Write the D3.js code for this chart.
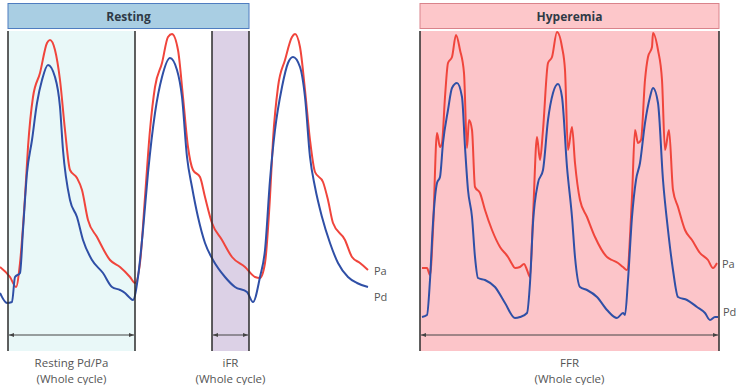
<!DOCTYPE html>
<html>
<head>
<meta charset="utf-8">
<title>Resting vs Hyperemia</title>
<script src="https://cdn.jsdelivr.net/npm/d3@7"></script>
<style>
  body { margin: 0; background: #fff; }
  svg text { font-family: "Open Sans", "Noto Sans", sans-serif; }
</style>
</head>
<body>
<svg id="chart" width="741" height="385"></svg>
<script>
// time in samples, pressure in arbitrary units

// resting traces
var restPa = [[0,63],[10,53],[16,43],[20,67],[25,133],[28,183],[33,233],[40,257],[47,287],[50,290],[55,280],[60,250],[65,200],[70,160],[77,152],[82,140],[88,110],[97,93],[110,70],[120,63],[130,53],[135,47],
  [140,67],[145,133],[150,200],[155,243],[162,267],[168,293],[172,296],[178,280],[183,233],[188,183],[193,160],[200,153],[205,133],[212,107],[222,90],[232,73],[245,63],[255,53],[260,52],
  [265,67],[270,133],[273,190],[278,243],[285,270],[292,293],[295,296],[300,283],[305,240],[310,190],[315,158],[323,148],[328,130],[333,107],[345,90],[352,73],[360,67],[368,60]];
var restPd = [[0,37],[7,27],[12,28],[15,53],[20,57],[23,100],[27,157],[32,190],[37,227],[42,250],[48,265],[55,253],[60,223],[63,180],[70,130],[77,113],[83,90],[92,70],[103,57],[112,43],[120,40],[125,37],[130,32],[133,30],
  [138,53],[143,100],[148,157],[155,217],[162,253],[170,272],[177,260],[182,233],[187,173],[192,143],[198,113],[205,87],[213,70],[225,53],[235,43],[247,38],[253,28],
  [260,53],[265,80],[270,150],[275,200],[282,243],[288,267],[293,273],[300,263],[305,233],[310,173],[315,143],[322,113],[330,87],[338,67],[348,53],[357,47],[368,43]];

// hyperemia traces
var hypPa = [[2,62],[7,62],[10,55],[13,100],[17,197],[20,183],[22,187],[25,233],[28,267],[32,273],[36,295],[40,280],[44,257],[47,182],[49,210],[52,200],[55,143],[60,137],[65,120],[72,100],[80,83],[88,73],[92,66],[95,62],[100,63],[104,66],[107,60],[110,53],
  [113,113],[117,193],[120,170],[123,200],[128,267],[132,273],[137,298],[142,283],[145,260],[148,180],[152,203],[155,167],[160,130],[167,113],[175,93],[187,73],[192,70],[198,67],[203,63],[207,60],
  [212,133],[215,200],[218,187],[221,190],[225,250],[228,273],[232,283],[233,297],[238,280],[242,250],[245,180],[249,200],[253,140],[258,123],[265,100],[272,90],[280,77],[288,70],[293,62],[297,67]];
var hypPd = [[2,13],[7,15],[10,50],[13,107],[17,147],[20,153],[23,187],[28,220],[32,242],[37,247],[42,233],[45,183],[48,140],[52,113],[55,73],[58,52],[65,50],[75,43],[85,27],[95,12],[100,13],[107,17],
  [110,47],[113,107],[118,147],[123,160],[128,210],[133,237],[138,246],[142,233],[147,163],[152,113],[155,73],[160,43],[167,40],[177,33],[187,20],[197,12],[203,17],[205,15],
  [208,50],[212,113],[216,150],[220,167],[225,207],[230,233],[233,242],[238,227],[243,150],[248,100],[253,60],[258,33],[267,30],[277,23],[285,17],[290,10],[295,13],[298,13]];

// window boundaries (samples)
var restCycle = [8, 135];
var restIFR = [212, 249];
var hypCycle = [0, 299];

var panels = ["Resting", "Hyperemia"];
var windowLabels = [["Resting Pd/Pa", "(Whole cycle)"], ["iFR", "(Whole cycle)"], ["FFR", "(Whole cycle)"]];
var seriesNames = ["Pa", "Pd"];

var svg = d3.select("#chart");
var red = "#f0453c", blue = "#2f4fa6";

var y = d3.scaleLinear().domain([0, 300]).range([330, 30]);
var xL = d3.scaleLinear().domain([0, 370]).range([0, 370]);
var xR = d3.scaleLinear().domain([0, 300]).range([420, 720]);

var yTop = 31, yBottom = 351, arrowY = 335;

// headers
function header(x0, x1, label, fill, stroke) {
  svg.append("rect").attr("x", x0).attr("y", 3.5).attr("width", x1 - x0).attr("height", 25)
    .attr("fill", fill).attr("stroke", stroke).attr("stroke-width", 1);
  svg.append("text").attr("x", (x0 + x1) / 2).attr("y", 20.5).attr("text-anchor", "middle")
    .attr("font-size", 12).attr("font-weight", "bold").attr("fill", "#2f3a46").text(label);
}
header(xL(restCycle[0]), xL(restIFR[1]), panels[0], "#a9cee3", "#4f7dc0");
header(xR(hypCycle[0]), xR(hypCycle[1]), panels[1], "#fdc7ca", "#d9838b");

// shaded windows
function band(x, w, fill) {
  svg.append("rect").attr("x", x(w[0])).attr("y", yTop).attr("width", x(w[1]) - x(w[0]))
    .attr("height", yBottom - yTop).attr("fill", fill);
}
band(xL, restCycle, "#e9f8f8");
band(xL, restIFR, "#dcd1e6");
band(xR, hypCycle, "#fcc5c9");

// arrow markers
var defs = svg.append("defs");
["start", "end"].forEach(function (k) {
  defs.append("marker").attr("id", "arr-" + k).attr("viewBox", "0 0 10 10")
    .attr("refX", k == "end" ? 10 : 0).attr("refY", 5)
    .attr("markerWidth", 5).attr("markerHeight", 5).attr("orient", "auto")
    .append("path").attr("d", k == "end" ? "M0,1L10,5L0,9Z" : "M10,1L0,5L10,9Z").attr("fill", "#444");
});

// traces
var line = function (x) {
  return d3.line().curve(d3.curveMonotoneX)
    .x(function (d) { return x(d[0]); }).y(function (d) { return y(d[1]); });
};
[[restPa, xL, red], [restPd, xL, blue], [hypPa, xR, red], [hypPd, xR, blue]].forEach(function (s) {
  svg.append("path").datum(s[0]).attr("d", line(s[1])).attr("fill", "none")
    .attr("stroke", s[2]).attr("stroke-width", 2).attr("stroke-linejoin", "round");
});

// boundary lines
function vlines(x, arr) {
  arr.forEach(function (v) {
    svg.append("line").attr("x1", x(v)).attr("x2", x(v)).attr("y1", yTop).attr("y2", yBottom)
      .attr("stroke", "#2b2b2b").attr("stroke-width", 1.5);
  });
}
vlines(xL, restCycle.concat(restIFR));
vlines(xR, hypCycle);

// measure arrows + labels
[[xL, restCycle, windowLabels[0]], [xL, restIFR, windowLabels[1]], [xR, hypCycle, windowLabels[2]]].forEach(function (a) {
  var x0 = a[0](a[1][0]) + 1, x1 = a[0](a[1][1]) - 1;
  svg.append("line").attr("x1", x0).attr("x2", x1).attr("y1", arrowY).attr("y2", arrowY)
    .attr("stroke", "#444").attr("stroke-width", 1)
    .attr("marker-start", "url(#arr-start)").attr("marker-end", "url(#arr-end)");
  var cx = (x0 + x1) / 2;
  a[2].forEach(function (t, i) {
    svg.append("text").attr("x", cx).attr("y", 367 + i * 16).attr("text-anchor", "middle")
      .attr("font-size", 11.5).attr("fill", "#555").text(t);
  });
});

// series labels at line ends
function endLabels(x, pa, pd, dx, ya, yd) {
  svg.append("text").attr("x", x(pa[pa.length - 1][0]) + dx).attr("y", ya)
    .attr("font-size", 11).attr("fill", "#555").attr("dominant-baseline", "middle").text(seriesNames[0]);
  svg.append("text").attr("x", x(pd[pd.length - 1][0]) + dx).attr("y", yd)
    .attr("font-size", 11).attr("fill", "#555").attr("dominant-baseline", "middle").text(seriesNames[1]);
}
endLabels(xL, restPa, restPd, 6, 272, 298);
endLabels(xR, hypPa, hypPd, 5, 265, 313);
</script>
</body>
</html>
